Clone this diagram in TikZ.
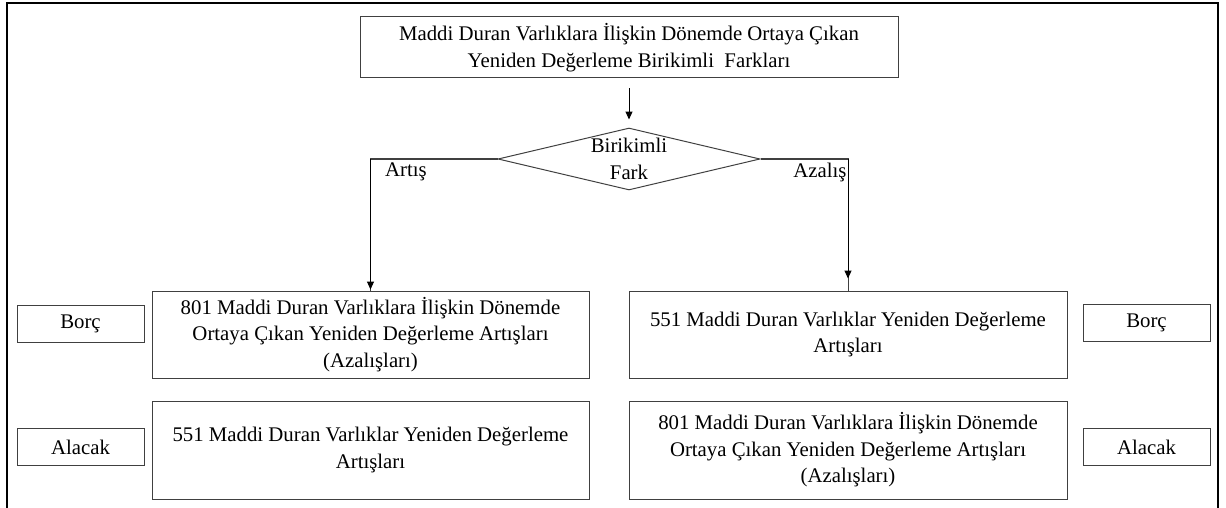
\documentclass[tikz,border=0pt]{standalone}
\usepackage{fontspec}
\setmainfont{Liberation Serif}
\usetikzlibrary{shapes.geometric,arrows.meta}
\begin{document}
\begin{tikzpicture}[x=1pt,y=-1pt,
  txt/.style={font=\fontsize{20.8}{26.5}\selectfont, align=center, inner sep=0pt},
  box/.style={txt, draw=black!75, line width=1pt},
  bigbox/.style={box, minimum width=437pt},
  sidebox/.style={box, minimum width=127pt, minimum height=37pt},
  arr/.style={draw=black, line width=1pt, -{Triangle[width=7pt,length=8pt]}},
  link/.style={draw=black!75, line width=1pt}]
\useasboundingbox (0,0) rectangle (1226,508);
% open frame around the whole chart
\draw[line width=2pt] (7,512) -- (7,3) -- (1218,3) -- (1218,512);

% header
\node[box, minimum width=538pt, minimum height=61pt] (top) at (629,47.5)
  {Maddi Duran Varlıklara İlişkin Dönemde Ortaya Çıkan\\Yeniden Değerleme Birikimli\ \ Farkları};

% decision
\node[diamond, draw=black!75, line width=1pt, minimum width=262pt, minimum height=62pt, inner sep=0pt] (dia) at (629,159) {};
\node[txt] (diatext) at (dia.center) {Birikimli\\Fark};
\node[txt] (inc) at (406,172) {Artış};
\node[txt] (dec) at (820,172) {Azalış};

% entries for an increase
\node[bigbox, minimum height=87pt] (l1) at (370.5,334.5)
  {801 Maddi Duran Varlıklara İlişkin Dönemde\\Ortaya Çıkan Yeniden Değerleme Artışları\\(Azalışları)};
\node[bigbox, minimum height=98pt] (l2) at (370.5,450)
  {551 Maddi Duran Varlıklar Yeniden Değerleme\\Artışları};
\node[sidebox] (lb) at (80.5,323.5) {Borç};
\node[sidebox] (la) at (80.5,447) {Alacak};

% entries for a decrease
\node[bigbox, minimum height=87pt, minimum width=438pt] (r1) at (848,334.5)
  {551 Maddi Duran Varlıklar Yeniden Değerleme\\Artışları};
\node[bigbox, minimum height=98pt, minimum width=438pt] (r2) at (848,450)
  {801 Maddi Duran Varlıklara İlişkin Dönemde\\Ortaya Çıkan Yeniden Değerleme Artışları\\(Azalışları)};
\node[sidebox] (rb) at (1146.5,323) {Borç};
\node[sidebox] (ra) at (1146.5,447) {Alacak};

% connectors
\draw[arr, shorten <=10pt, shorten >=8pt] (top) -- (dia);
\draw[link] (dia.west) -| (l1.north);
\draw[arr, shorten >=1pt] (l1.north |- dia.west) -- (l1.north);
\draw[link] (dia.east) -| (r1.north);
\draw[arr, shorten >=12pt] (r1.north |- dia.east) -- (r1.north);
\end{tikzpicture}
\end{document}
